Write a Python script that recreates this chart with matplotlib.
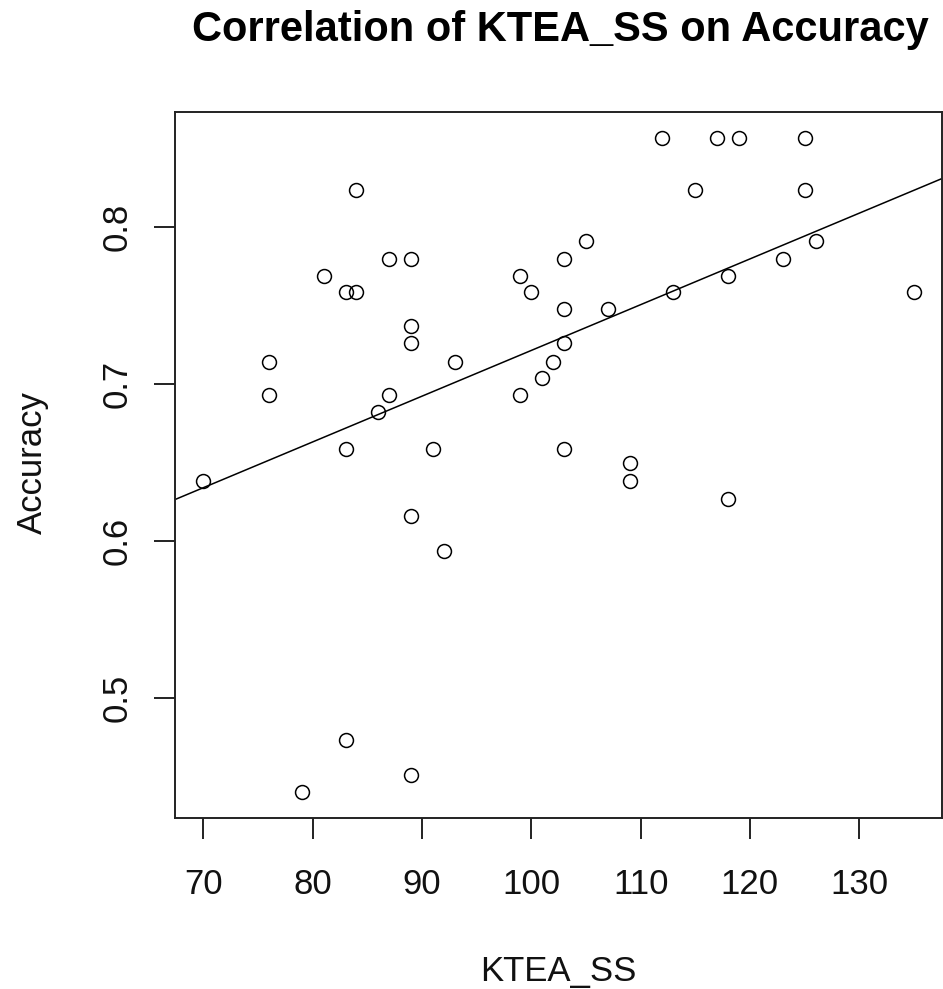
import numpy as np
import matplotlib
matplotlib.use("Agg")
import matplotlib.pyplot as plt

plt.rcParams['font.family'] = ['Liberation Sans', 'DejaVu Sans']

# KTEA standard score vs task accuracy
ktea_ss = [84, 87, 89, 81, 83, 84, 89, 89, 76, 93, 76, 87, 86,
           99, 100, 103, 103, 103, 102, 101, 99, 83, 91, 103, 70,
           112, 117, 119, 125, 115, 125, 105, 126, 123, 118, 113, 135,
           107, 109, 109, 118, 89, 92, 83, 89, 79]
accuracy = [0.824, 0.780, 0.780, 0.769, 0.759, 0.759, 0.737, 0.726, 0.714, 0.714, 0.693, 0.693, 0.682,
            0.769, 0.759, 0.780, 0.748, 0.726, 0.714, 0.704, 0.693, 0.659, 0.659, 0.659, 0.638,
            0.857, 0.857, 0.857, 0.857, 0.824, 0.824, 0.791, 0.791, 0.780, 0.769, 0.759, 0.759,
            0.748, 0.650, 0.638, 0.627, 0.616, 0.594, 0.473, 0.451, 0.440]
x_ticks = [70, 80, 90, 100, 110, 120, 130]
y_ticks = [0.5, 0.6, 0.7, 0.8]

x = np.array(ktea_ss, dtype=float)
y = np.array(accuracy)

fig = plt.figure(figsize=(9.43, 9.89), dpi=100)
ax = fig.add_axes([175 / 943, 1 - 818.3 / 989, 767.3 / 943, 706.6 / 989])

ax.plot(x, y, linestyle='none', marker='o', markersize=10,
        markerfacecolor='none', markeredgecolor='black', markeredgewidth=1.1)

# least squares fit line, drawn across the whole panel
slope, intercept = np.polyfit(x, y, 1)
ax.axline((0, intercept), slope=slope, color='black', linewidth=1.1)

# R-style 4% padding around the data range
xr = x.max() - x.min()
yr = y.max() - y.min()
ax.set_xlim(x.min() - 0.04 * xr, x.max() + 0.04 * xr)
ax.set_ylim(y.min() - 0.04 * yr, y.max() + 0.04 * yr)

ax.set_xticks(x_ticks)
ax.set_yticks(y_ticks)
ax.set_xticklabels([str(t) for t in x_ticks])
ax.set_yticklabels([str(t) for t in y_ticks])
ax.tick_params(axis='both', direction='out', length=15, width=1.4,
               labelsize=25, color='#222222', labelcolor='#111111')
ax.tick_params(axis='x', pad=21)
ax.tick_params(axis='y', pad=15, labelrotation=90)
for lbl in ax.get_yticklabels():
    lbl.set_va('center')

for side in ax.spines.values():
    side.set_linewidth(1.4)
    side.set_color('#222222')

fig.text(560 / 943, 1 - 41 / 989, 'Correlation of KTEA_SS on Accuracy',
         ha='center', va='baseline', fontsize=30, fontweight='bold')
fig.text(558 / 943, 1 - 981 / 989, 'KTEA_SS', ha='center', va='baseline',
         fontsize=25, color='#111111')
fig.text(32.5 / 943, 1 - 463 / 989, 'Accuracy', ha='center', va='center',
         rotation=90, fontsize=25, color='#111111')

fig.savefig('out.png', dpi=100)
